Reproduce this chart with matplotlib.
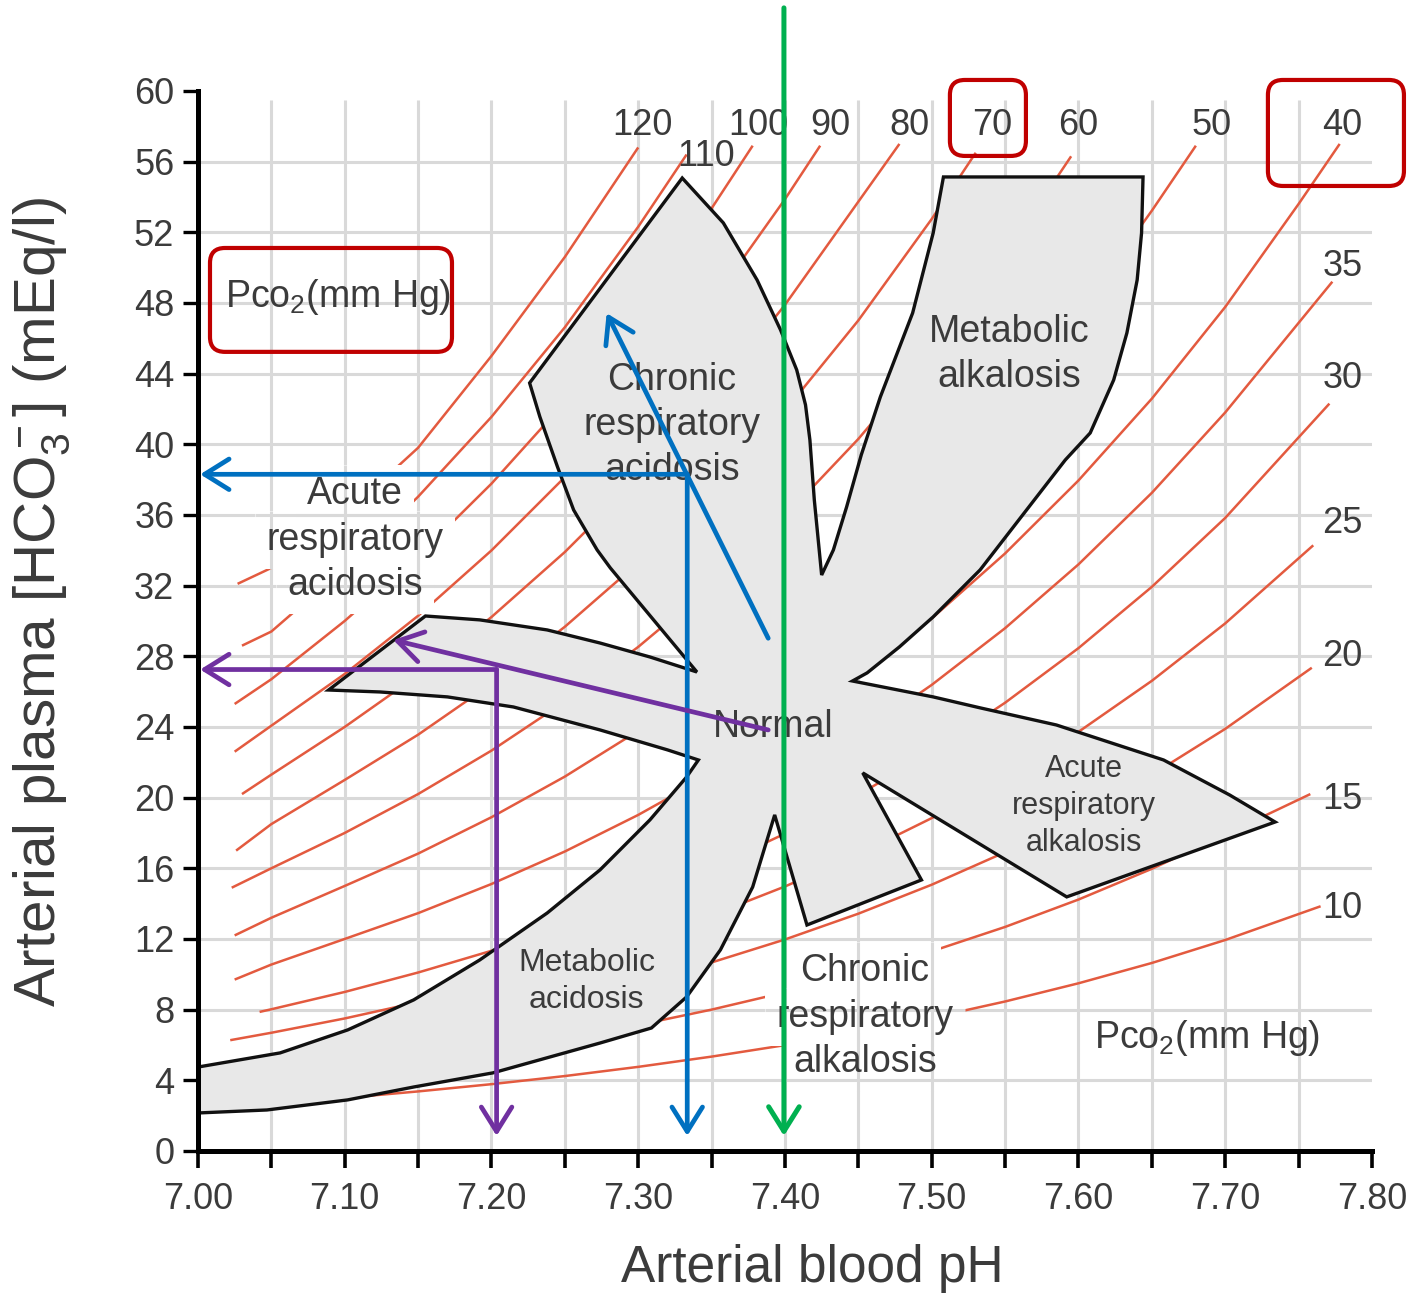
import matplotlib.pyplot as plt
from matplotlib.patches import Polygon, FancyBboxPatch

plt.rcParams['font.family'] = ['Liberation Sans', 'DejaVu Sans']
plt.rcParams['mathtext.fontset'] = 'custom'
plt.rcParams['mathtext.rm'] = 'Liberation Sans'
plt.rcParams['mathtext.it'] = 'Liberation Sans:italic'
plt.rcParams['mathtext.bf'] = 'Liberation Sans:bold'

# axis ticks
ph_major = [7.00, 7.10, 7.20, 7.30, 7.40, 7.50, 7.60, 7.70, 7.80]
ph_minor = [7.05, 7.15, 7.25, 7.35, 7.45, 7.55, 7.65, 7.75]
hco3_ticks = [0, 4, 8, 12, 16, 20, 24, 28, 32, 36, 40, 44, 48, 52, 56, 60]

# Pco2 isopleths (pH, HCO3-)
iso_10 = [(7.05, 2.67), (7.10, 3.00), (7.15, 3.37), (7.20, 3.78), (7.25, 4.24), (7.30, 4.76),
          (7.35, 5.34), (7.40, 5.99), (7.45, 6.72), (7.50, 7.54), (7.55, 8.46), (7.60, 9.49),
          (7.65, 10.64), (7.70, 11.94), (7.765, 13.85)]
iso_15 = [(7.10, 4.50), (7.15, 5.05), (7.20, 5.67), (7.25, 6.36), (7.30, 7.13), (7.35, 8.00),
          (7.40, 8.98), (7.45, 10.07), (7.50, 11.30), (7.55, 12.68), (7.60, 14.23), (7.65, 15.97),
          (7.70, 17.91), (7.758, 20.2)]
iso_20 = [(7.10, 6.00), (7.15, 6.73), (7.20, 7.55), (7.25, 8.48), (7.30, 9.51), (7.35, 10.67),
          (7.40, 11.97), (7.45, 13.43), (7.50, 15.07), (7.55, 16.91), (7.60, 18.97), (7.65, 21.29),
          (7.70, 23.89), (7.759, 27.35)]
iso_25 = [(7.022, 6.27), (7.05, 6.69), (7.10, 7.50), (7.15, 8.42), (7.20, 9.44), (7.25, 10.60),
          (7.30, 11.89), (7.35, 13.34), (7.40, 14.97), (7.45, 16.79), (7.50, 18.84), (7.55, 21.14),
          (7.60, 23.72), (7.65, 26.61), (7.70, 29.86), (7.76, 34.28)]
iso_30 = [(7.042, 7.87), (7.05, 8.02), (7.10, 9.00), (7.15, 10.10), (7.20, 11.33), (7.25, 12.71),
          (7.30, 14.27), (7.35, 16.01), (7.40, 17.96), (7.45, 20.15), (7.50, 22.61), (7.55, 25.37),
          (7.60, 28.46), (7.65, 31.93), (7.70, 35.83), (7.771, 42.3)]
iso_35 = [(7.40, 20.95), (7.45, 23.51), (7.50, 26.38), (7.55, 29.59), (7.60, 33.20), (7.65, 37.25),
          (7.70, 41.80), (7.773, 49.2)]
iso_40 = [(7.025, 9.7), (7.05, 10.55), (7.10, 12.0), (7.15, 13.46), (7.20, 15.11), (7.25, 16.95),
          (7.30, 19.02), (7.35, 21.34), (7.40, 23.94), (7.45, 26.86), (7.50, 30.14), (7.55, 33.82),
          (7.60, 37.95), (7.65, 42.58), (7.70, 47.77), (7.75, 53.6), (7.778, 57.0)]
iso_50 = [(7.025, 12.2), (7.05, 13.2), (7.10, 15.0), (7.15, 16.83), (7.20, 18.89), (7.25, 21.19),
          (7.30, 23.78), (7.35, 26.68), (7.40, 29.93), (7.45, 33.58), (7.50, 37.68), (7.55, 42.28),
          (7.60, 47.44), (7.65, 53.22), (7.68, 56.9)]
iso_60 = [(7.023, 14.9), (7.05, 16.0), (7.10, 18.0), (7.15, 20.20), (7.20, 22.66), (7.25, 25.43),
          (7.30, 28.53), (7.35, 32.01), (7.40, 35.92), (7.45, 40.30), (7.50, 45.22), (7.55, 50.73),
          (7.595, 56.3)]
iso_70 = [(7.026, 17.0), (7.05, 18.5), (7.10, 21.0), (7.15, 23.56), (7.20, 26.44), (7.25, 29.67),
          (7.30, 33.29), (7.35, 37.35), (7.40, 41.90), (7.45, 47.01), (7.50, 52.75), (7.53, 56.5)]
iso_80 = [(7.030, 20.2), (7.05, 21.3), (7.10, 24.0), (7.15, 26.93), (7.20, 30.22), (7.25, 33.90),
          (7.30, 38.04), (7.35, 42.68), (7.40, 47.89), (7.45, 53.73), (7.478, 57.0)]
iso_90 = [(7.025, 22.6), (7.05, 24.07), (7.10, 27.0), (7.15, 30.29), (7.20, 33.99), (7.25, 38.14),
          (7.30, 42.80), (7.35, 48.02), (7.40, 53.87), (7.424, 56.9)]
iso_100 = [(7.025, 25.3), (7.05, 26.7), (7.10, 30.0), (7.15, 33.66), (7.20, 37.77), (7.25, 42.38),
           (7.30, 47.55), (7.35, 53.35), (7.378, 56.9)]
iso_110 = [(7.030, 28.6), (7.05, 29.4), (7.10, 33.0), (7.15, 37.03), (7.20, 41.55), (7.25, 46.62),
           (7.30, 52.31), (7.333, 56.4)]
iso_120 = [(7.027, 32.1), (7.05, 33.0), (7.10, 36.0), (7.15, 39.8), (7.20, 45.0), (7.25, 50.6),
           (7.30, 56.8)]
isopleths = [iso_10, iso_15, iso_20, iso_25, iso_30, iso_35, iso_40, iso_50, iso_60,
             iso_70, iso_80, iso_90, iso_100, iso_110, iso_120]

# isopleth labels
top_labels = ['120', '110', '100', '90', '80', '70', '60', '50', '40']
top_label_ph = [7.303, 7.346, 7.382, 7.431, 7.485, 7.541, 7.600, 7.691, 7.780]
top_label_hco3 = [58.07, 56.26, 58.07, 58.07, 58.07, 58.07, 58.07, 58.07, 58.07]
side_labels = ['35', '30', '25', '20', '15', '10']
side_label_hco3 = [50.04, 43.75, 35.49, 27.96, 19.87, 13.75]

# outline of the acid-base zones (one star-shaped band)
zone_ph = [7.089, 7.155, 7.192, 7.238, 7.274, 7.308, 7.340, 7.281, 7.272, 7.256, 7.245, 7.233,
           7.226, 7.330, 7.358, 7.381, 7.397, 7.408, 7.414, 7.417, 7.420, 7.425, 7.433, 7.442,
           7.452, 7.465, 7.487, 7.501, 7.508, 7.644, 7.643, 7.640, 7.633, 7.624, 7.608, 7.591,
           7.533, 7.501, 7.478, 7.456, 7.446, 7.501, 7.533, 7.585, 7.658, 7.703, 7.734, 7.592,
           7.453, 7.493, 7.415, 7.393, 7.378, 7.356, 7.333, 7.309, 7.274, 7.201, 7.147, 7.102,
           7.047, 7.000, 7.000, 7.056, 7.102, 7.147, 7.192, 7.238, 7.274, 7.308, 7.333, 7.341,
           7.320, 7.274, 7.215, 7.170, 7.124]
zone_hco3 = [26.09, 30.28, 30.06, 29.49, 28.75, 27.96, 27.11, 33.00, 34.02, 36.28, 38.72, 41.55,
             43.47, 55.07, 52.53, 49.30, 46.47, 44.21, 42.23, 40.24, 36.85, 32.60, 34.02, 36.45,
             39.40, 42.68, 47.43, 51.96, 55.13, 55.13, 51.96, 49.30, 46.30, 43.64, 40.64, 39.11,
             32.89, 30.23, 28.53, 27.06, 26.60, 25.70, 25.08, 24.11, 22.13, 20.15, 18.62, 14.38,
             21.40, 15.34, 12.79, 19.02, 14.94, 11.38, 8.72, 6.96, 6.11, 4.42, 3.62, 2.89,
             2.32, 2.15, 4.75, 5.55, 6.85, 8.55, 10.81, 13.47, 15.91, 18.74, 21.17, 22.13,
             22.70, 23.83, 25.13, 25.70, 25.98]

# annotation overlay
blue_corner = (7.3334, 38.30)
blue_diag = [(7.3886, 29.02), (7.2785, 47.42)]
purple_corner = (7.2035, 27.25)
purple_diag = [(7.3886, 23.83), (7.1331, 28.92)]
green_ph = 7.3993
green_top = 64.7
arrow_tip_hco3 = 0.85
arrow_tip_ph = 7.0015
red_boxes = [(7.0082, 45.23, 7.1731, 51.11), (7.5124, 56.32, 7.5642, 60.62),
             (7.7291, 54.62, 7.8218, 60.62)]

TEXT = '#3b3b3b'
RED_LINE = '#e35a3f'
GRID = '#d9d9d9'

fig = plt.figure(figsize=(14.16, 12.97), dpi=100)
ax = fig.add_axes([0.1398, 0.1126, 0.8291, 0.8173])
ax.set_xlim(7.0, 7.8)
ax.set_ylim(0, 60)

grid_ph = ph_minor + ph_major[1:-1]
grid_hco3 = hco3_ticks[1:-1]

# grid
ax.vlines(grid_ph, 0, 59.5, colors=GRID, lw=2.2, zorder=1)
ax.hlines(grid_hco3, 7.0, 7.8, colors=GRID, lw=2.2, zorder=1)

# isopleths
for line in isopleths:
    xs = [p[0] for p in line]
    ys = [p[1] for p in line]
    ax.plot(xs, ys, color=RED_LINE, lw=1.8, zorder=2, solid_capstyle='butt')

for lab, x, y in zip(top_labels, top_label_ph, top_label_hco3):
    ax.text(x, y, lab, fontsize=26, color=TEXT, ha='center', va='center', zorder=3)
for lab, y in zip(side_labels, side_label_hco3):
    ax.text(7.780, y, lab, fontsize=26, color=TEXT, ha='center', va='center', zorder=3)

# zones
zone = Polygon(list(zip(zone_ph, zone_hco3)), closed=True, facecolor='#e8e8e8',
               edgecolor='#111111', lw=2.4, zorder=4)
ax.add_patch(zone)

# zone names sitting on white: they break the isopleths but not the grid
knock = dict(boxstyle='square,pad=0.3', fc='white', ec='none')
knock_words = [('Acute', 7.107, 37.19), ('respiratory', 7.107, 34.58), ('acidosis', 7.107, 32.04),
               ('Chronic', 7.4545, 10.19), ('respiratory', 7.4545, 7.58),
               ('alkalosis', 7.4545, 5.04)]
knock_patches = []
for word, x, y in knock_words:
    knock_patches.append(ax.text(x, y, word, fontsize=27, color='none', ha='center',
                                 va='center', bbox=knock, zorder=2.5))
    ax.text(x, y, word, fontsize=27, color=TEXT, ha='center', va='center', zorder=3)

ax.text(7.323, 41.1, 'Chronic\nrespiratory\nacidosis', fontsize=27, color=TEXT,
        ha='center', va='center', linespacing=1.32, zorder=5)
ax.text(7.553, 45.06, 'Metabolic\nalkalosis', fontsize=27, color=TEXT,
        ha='center', va='center', linespacing=1.32, zorder=5)
ax.text(7.392, 24.0, 'Normal', fontsize=27, color=TEXT, ha='center', va='center', zorder=5)
ax.text(7.604, 19.53, 'Acute\nrespiratory\nalkalosis', fontsize=22, color=TEXT,
        ha='center', va='center', linespacing=1.3, zorder=5)
ax.text(7.265, 9.57, 'Metabolic\nacidosis', fontsize=23, color=TEXT,
        ha='center', va='center', linespacing=1.3, zorder=5)
ax.text(7.6876, 6.4, r'Pco$_2$(mm Hg)', fontsize=27, color=TEXT, ha='center', va='center', zorder=5)
ax.text(7.0954, 48.34, r'Pco$_2$(mm Hg)', fontsize=27, color=TEXT, ha='center', va='center', zorder=5)

# red highlight boxes
for x0, y0, x1, y1 in red_boxes:
    box = FancyBboxPatch((x0, y0), x1 - x0, y1 - y0,
                         boxstyle='round,pad=0,rounding_size=0.0102',
                         mutation_aspect=83.06, fc='none', ec='#c00000', lw=3.0,
                         zorder=6, clip_on=False)
    ax.add_patch(box)

# arrows
def arrow(start, end, color, lw=3.4):
    ax.annotate('', xy=end, xytext=start, annotation_clip=False,
                arrowprops=dict(arrowstyle='->,head_length=0.8,head_width=0.5',
                                mutation_scale=22, color=color, lw=lw,
                                shrinkA=0, shrinkB=0),
                zorder=7)

BLUE = '#0070c0'
PURPLE = '#7030a0'
GREEN = '#00b050'
arrow(blue_corner, (blue_corner[0], arrow_tip_hco3), BLUE)
arrow(blue_corner, (arrow_tip_ph, blue_corner[1]), BLUE)
arrow(blue_diag[0], blue_diag[1], BLUE)
arrow(purple_corner, (purple_corner[0], arrow_tip_hco3), PURPLE)
arrow(purple_corner, (arrow_tip_ph, purple_corner[1]), PURPLE)
arrow(purple_diag[0], purple_diag[1], PURPLE)
arrow((green_ph, green_top), (green_ph, arrow_tip_hco3), GREEN, lw=3.6)

# axes styling
for side in ['top', 'right']:
    ax.spines[side].set_visible(False)
for side in ['left', 'bottom']:
    ax.spines[side].set_linewidth(3.6)
    ax.spines[side].set_zorder(8)

ax.set_xticks(ph_major)
ax.set_xticklabels(['%.2f' % v for v in ph_major])
ax.set_xticks(ph_minor, minor=True)
ax.set_yticks(hco3_ticks)
ax.set_yticklabels([str(v) for v in hco3_ticks])
ax.tick_params(axis='x', which='both', length=12, width=2.6, pad=10,
               labelsize=26, labelcolor=TEXT)
ax.tick_params(axis='y', length=11, width=2.4, pad=6, labelsize=26, labelcolor=TEXT)

fig.text(0.5734, 0.0116, 'Arterial blood pH', fontsize=37, color=TEXT,
         ha='center', va='baseline')
fig.text(0.0297, 0.5359, r'Arterial plasma [HCO$_3^-$] (mEq/l)', fontsize=42, color=TEXT,
         rotation=90, ha='center', va='center')

# put the grid back over the white label patches (under the words)
fig.canvas.draw()
inv = ax.transData.inverted()
for t in knock_patches:
    ext = t.get_bbox_patch().get_window_extent()
    (x0, y0), (x1, y1) = inv.transform([[ext.x0, ext.y0], [ext.x1, ext.y1]])
    for g in grid_ph:
        if x0 < g < x1:
            ax.vlines(g, y0, y1, colors=GRID, lw=2.2, zorder=2.6)
    for g in grid_hco3:
        if y0 < g < y1:
            ax.hlines(g, x0, x1, colors=GRID, lw=2.2, zorder=2.6)

fig.savefig('out.png', dpi=100, facecolor='white')
